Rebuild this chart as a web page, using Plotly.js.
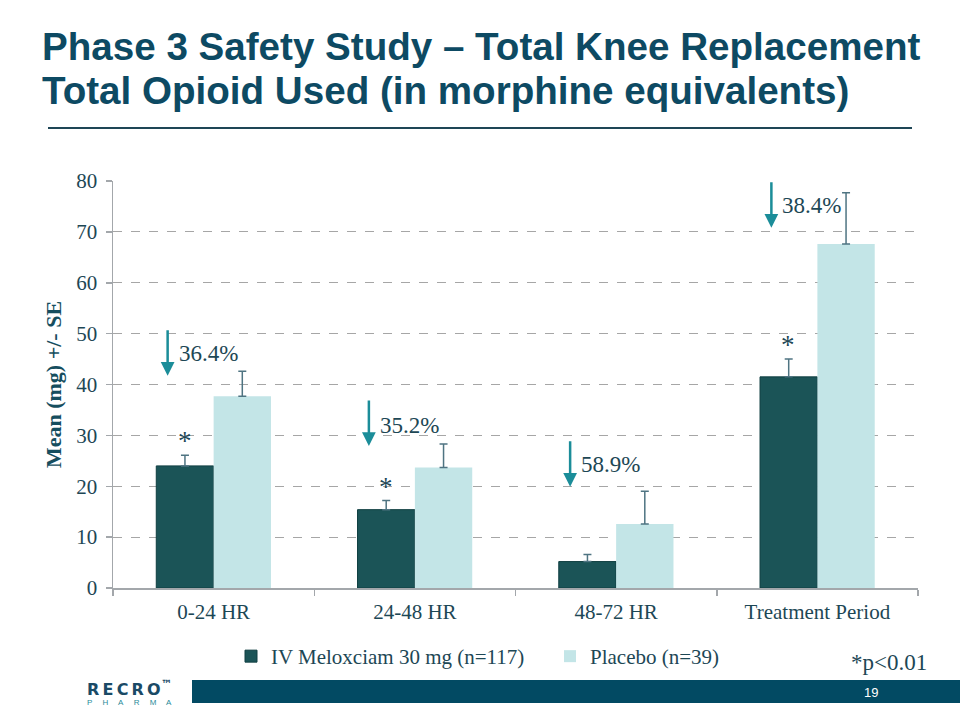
<!DOCTYPE html>
<html>
<head>
<meta charset="utf-8">
<script src="https://cdn.plot.ly/plotly-3.0.1.min.js"></script>
<style>
  html, body { margin: 0; padding: 0; background: #ffffff; }
  #chart { width: 960px; height: 720px; }
</style>
</head>
<body>
<div id="chart"></div>
<script>
// ---- data ----
const categories = ["0-24 HR", "24-48 HR", "48-72 HR", "Treatment Period"];
const meloxicamMean = [24.0, 15.4, 5.2, 41.5];
const meloxicamSE = [2.1, 1.8, 1.4, 3.5];
const placeboMean = [37.7, 23.7, 12.6, 67.6];
const placeboSE = [4.9, 4.6, 6.4, 10.1];
const reductionLabels = ["36.4%", "35.2%", "58.9%", "38.4%"];
const significant = [true, true, false, true];
const seriesNames = ["IV Meloxciam 30 mg (n=117)", "Placebo (n=39)"];
const yTicks = [0, 10, 20, 30, 40, 50, 60, 70, 80];

// ---- annotation placement (layout, in y-axis units) ----
const arrowTipY = [41.7, 27.9, 19.9, 70.8];
const labelY = [46.0, 32.0, 24.2, 75.1];

// ---- styles ----
const darkBar = "#1b5457";
const lightBar = "#c3e5e7";
const errColor = "#4f7482";
const arrowColor = "#1b8d99";
const textDark = "#1d4755";
const titleColor = "#0d4a63";
const serif = "'Liberation Serif', 'Times New Roman', serif";
const sans = "'Liberation Sans', Arial, sans-serif";

// plot area in pixels for paper-coordinate helpers
const PL = 113, PR = 918, PT = 181, PB = 588;
const px = x => (x - PL) / (PR - PL);
const py = y => (PB - y) / (PB - PT);

const traces = [
  {
    type: "bar",
    name: seriesNames[0],
    x: categories,
    y: meloxicamMean,
    marker: { color: darkBar, line: { color: "#103f42", width: 1 } },
    error_y: { type: "data", array: meloxicamSE, arrayminus: meloxicamSE.map(() => 0), symmetric: false,
               color: errColor, thickness: 1.5, width: 4 },
    hoverinfo: "skip"
  },
  {
    type: "bar",
    name: seriesNames[1],
    x: categories,
    y: placeboMean,
    marker: { color: lightBar, line: { width: 0 } },
    error_y: { type: "data", array: placeboSE, arrayminus: placeboSE.map(() => 0), symmetric: false,
               color: errColor, thickness: 1.5, width: 4 },
    hoverinfo: "skip"
  }
];

const annotations = [];

// title lines
annotations.push({ xref: "paper", yref: "paper", x: px(40), y: py(46), xanchor: "left", yanchor: "middle",
  text: "Phase 3 Safety Study – Total Knee Replacement", showarrow: false,
  font: { family: sans, size: 38.6, color: titleColor, weight: "bold" } });
annotations.push({ xref: "paper", yref: "paper", x: px(40), y: py(90), xanchor: "left", yanchor: "middle",
  text: "Total Opioid Used (in morphine equivalents)", showarrow: false,
  font: { family: sans, size: 38.6, color: titleColor, weight: "bold" } });

categories.forEach((c, i) => {
  // arrows
  annotations.push({ x: c, y: arrowTipY[i], xref: "x", yref: "y", xshift: -46,
    text: "", showarrow: true, ax: 0, ay: -47, arrowhead: 2, arrowsize: 1.1, arrowwidth: 2.5,
    arrowcolor: arrowColor, standoff: 0, startstandoff: 0 });
  // reduction labels
  annotations.push({ x: c, y: labelY[i], xref: "x", yref: "y", xshift: -37, xanchor: "left", yanchor: "middle",
    text: reductionLabels[i], showarrow: false, font: { family: serif, size: 23, color: textDark } });
  // significance asterisks
  if (significant[i]) {
    annotations.push({ x: c, y: meloxicamMean[i] + meloxicamSE[i], xref: "x", yref: "y", xshift: -29,
      xanchor: "center", yanchor: "bottom", yshift: -3,
      text: "*", showarrow: false, font: { family: serif, size: 27, color: textDark } });
  }
});

// footnote
annotations.push({ xref: "paper", yref: "paper", x: px(849), y: py(662), xanchor: "left", yanchor: "middle",
  text: "*p&lt;0.01", showarrow: false, font: { family: serif, size: 23, color: textDark } });
// page number
annotations.push({ xref: "paper", yref: "paper", x: px(871), y: py(692), xanchor: "center", yanchor: "middle",
  text: "19", showarrow: false, font: { family: sans, size: 13, color: "#ffffff" } });
// logo
annotations.push({ xref: "paper", yref: "paper", x: px(129), y: py(688), xanchor: "center", yanchor: "middle",
  text: "R\u2009E\u2009C\u2009R\u2009O<sup>™</sup>", showarrow: false,
  font: { family: "'DejaVu Sans', sans-serif", size: 16, color: "#1a4a66", weight: "bold" } });
annotations.push({ xref: "paper", yref: "paper", x: px(129), y: py(702), xanchor: "center", yanchor: "middle",
  text: "P\u2003 H\u2003 A\u2003 R\u2003 M\u2003 A", showarrow: false,
  font: { family: sans, size: 8, color: "#2a8c9a" } });

const shapes = [
  { type: "line", xref: "paper", yref: "paper", x0: px(48), x1: px(912), y0: py(128), y1: py(128),
    line: { color: "#1e4656", width: 2 } },
  { type: "rect", xref: "paper", yref: "paper", x0: px(192), x1: px(960), y0: py(703), y1: py(680),
    fillcolor: "#024a63", line: { width: 0 } }
];

const layout = {
  width: 960, height: 720,
  margin: { l: PL, r: 960 - PR, t: PT, b: 720 - PB, pad: 0, autoexpand: false },
  paper_bgcolor: "#ffffff", plot_bgcolor: "#ffffff",
  barmode: "group", bargap: 0.43, bargroupgap: 0,
  showlegend: true,
  legend: {
    orientation: "h", x: px(231), xanchor: "left", y: py(636), yanchor: "top",
    font: { family: serif, size: 21, color: textDark },
    entrywidth: 274, entrywidthmode: "pixels", itemwidth: 30,
    bgcolor: "rgba(0,0,0,0)", traceorder: "normal"
  },
  xaxis: {
    type: "category", range: [-0.5, 3.5], tickson: "boundaries",
    ticks: "outside", ticklen: 6, tickcolor: "#a3a7ab", tickwidth: 1.5,
    showline: true, linecolor: "#a3a7ab", linewidth: 1.5,
    showgrid: false, zeroline: false, ticklabelstandoff: 4,
    tickfont: { family: serif, size: 21, color: textDark }
  },
  yaxis: {
    range: [0, 80], tickvals: yTicks, ticks: "outside", ticklen: 6, tickcolor: "#a3a7ab", tickwidth: 1.5,
    showline: true, linecolor: "#a3a7ab", linewidth: 1.5,
    showgrid: true, gridcolor: "#a6a6a6", griddash: "dash", gridwidth: 1,
    zeroline: false, ticklabelstandoff: 4,
    tickfont: { family: serif, size: 21, color: textDark },
    title: { text: "Mean (mg) +/- SE", standoff: 8,
             font: { family: serif, size: 22, color: "#164e5e", weight: "bold" } }
  },
  annotations: annotations,
  shapes: shapes
};

Plotly.newPlot("chart", traces, layout, { displayModeBar: false, staticPlot: true });
</script>
</body>
</html>
